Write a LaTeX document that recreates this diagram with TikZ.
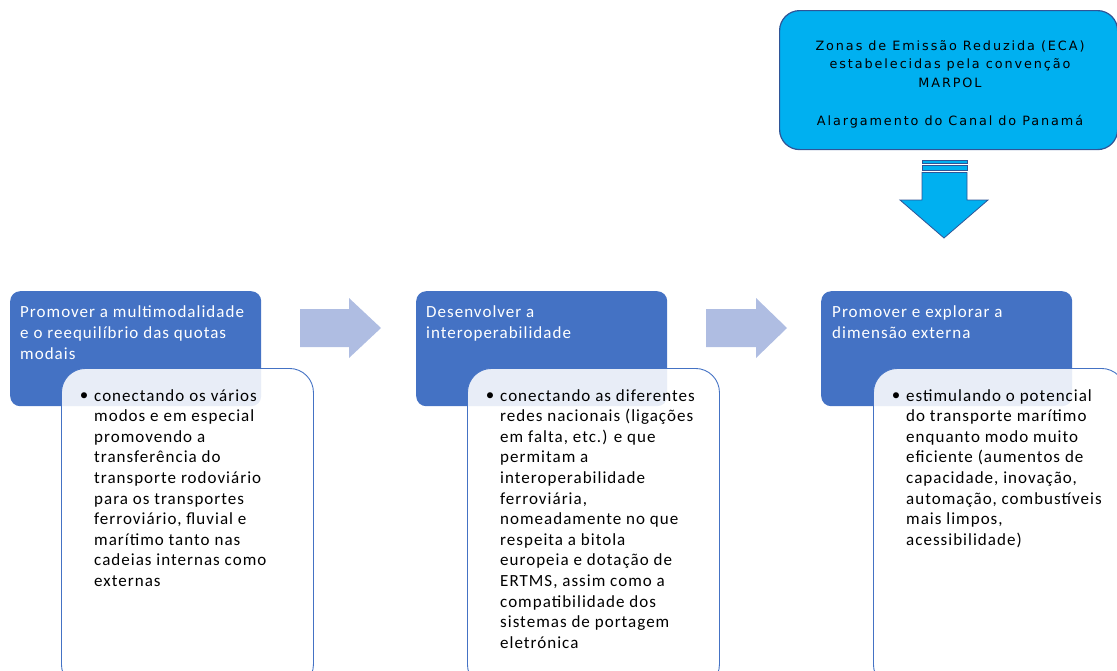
\documentclass[tikz,border=0pt]{standalone}
\usepackage{fontspec}
\setmainfont{Carlito}[LetterSpace=6]
\newfontfamily\verdana{DejaVu Sans}[LetterSpace=15]
\definecolor{hdrblue}{HTML}{4472C4}
\definecolor{arrblue}{HTML}{AFBDE2}
\definecolor{skyblue}{HTML}{00B0F0}
\definecolor{edgeblue}{HTML}{2F5597}

\begin{document}
\begin{tikzpicture}[x=1pt,y=-1pt]
  \tikzstyle{header}=[rectangle,rounded corners=10pt,fill=hdrblue,anchor=north west,
    minimum width=251pt,minimum height=115pt,inner sep=0pt]
  \tikzstyle{card}=[rectangle,rounded corners=24pt,draw=hdrblue,line width=0.9pt,
    fill=white,fill opacity=0.88,anchor=north west,minimum width=252pt,
    minimum height=320pt,inner sep=0pt]
  \tikzstyle{htext}=[anchor=north west,align=left,inner sep=0pt,text=white,
    font=\fontsize{17}{21}\selectfont]
  \tikzstyle{btext}=[anchor=north west,align=left,inner sep=0pt,
    font=\fontsize{17}{20.6}\selectfont]
  \tikzstyle{dot}=[inner sep=0pt,font=\fontsize{17}{20.6}\selectfont]

\useasboundingbox (0,0) rectangle (1117,670);

% external factors
\node [rectangle,rounded corners=20pt,fill=skyblue,draw=edgeblue,line width=1.2pt,
  anchor=north west,minimum width=338pt,minimum height=139pt] (eca) at (779,10) {};
\node [align=center,anchor=north,inner sep=0pt,
  font=\verdana\fontsize{12.8}{18.75}\selectfont] (ecat) at (950,40)
  {Zonas de Emissão Reduzida (ECA)\\estabelecidas pela convenção\\MARPOL\\[18.75pt]
   Alargamento do Canal do Panamá};

\filldraw [fill=skyblue,draw=edgeblue,line width=0.8pt] (922,160) rectangle (967,163.3);
\filldraw [fill=skyblue,draw=edgeblue,line width=0.8pt] (922,165.8) rectangle (967,170.5);
\filldraw [fill=skyblue,draw=edgeblue,line width=0.8pt]
  (922,172.5) -- (967,172.5) -- (967,200) -- (988,200) -- (944,238)
  -- (900,200) -- (922,200) -- cycle;

% step 1
\node [header] (h1) at (10,291) {};
\node [card] (c1) at (61,368) {};
\node [htext] (h1t) at (20,305)
  {Promover a multimodalidade\\e o reequilíbrio das quotas\\modais};
\node [dot] (d1) at (84,397) {\textbullet};
\node [btext] (c1t) at (94,389)
  {conectando os vários\\modos e em especial\\promovendo a\\transferência do\\
   transporte rodoviário\\para os transportes\\ferroviário, fluvial e\\
   marítimo tanto nas\\cadeias internas como\\externas};

% step 2
\node [header] (h2) at (416,291) {};
\node [card] (c2) at (467,368) {};
\node [htext] (h2t) at (426,305)
  {Desenvolver a\\interoperabilidade};
\node [dot] (d2) at (490,397) {\textbullet};
\node [btext] (c2t) at (500,389)
  {conectando as diferentes\\redes nacionais (ligações\\em falta, etc.) e que\\
   permitam a\\interoperabilidade\\ferroviária,\\nomeadamente no que\\
   respeita a bitola\\europeia e dotação de\\ERTMS, assim como a\\
   compatibilidade dos\\sistemas de portagem\\eletrónica};

% step 3
\node [header] (h3) at (821,291) {};
\node [card] (c3) at (873,368) {};
\node [htext] (h3t) at (832,305)
  {Promover e explorar a\\dimensão externa};
\node [dot] (d3) at (896,397) {\textbullet};
\node [btext] (c3t) at (906,389)
  {estimulando o potencial\\do transporte marítimo\\enquanto modo muito\\
   eficiente (aumentos de\\capacidade, inovação,\\automação, combustíveis\\
   mais limpos,\\acessibilidade)};

% arrows between steps
\fill [arrblue] (300,309) -- (349,309) -- (349,298) -- (381,328)
  -- (349,358) -- (349,347) -- (300,347) -- cycle;
\fill [arrblue] (706,309) -- (756,309) -- (756,298) -- (787,328)
  -- (756,358) -- (756,347) -- (706,347) -- cycle;
\end{tikzpicture}
\end{document}
